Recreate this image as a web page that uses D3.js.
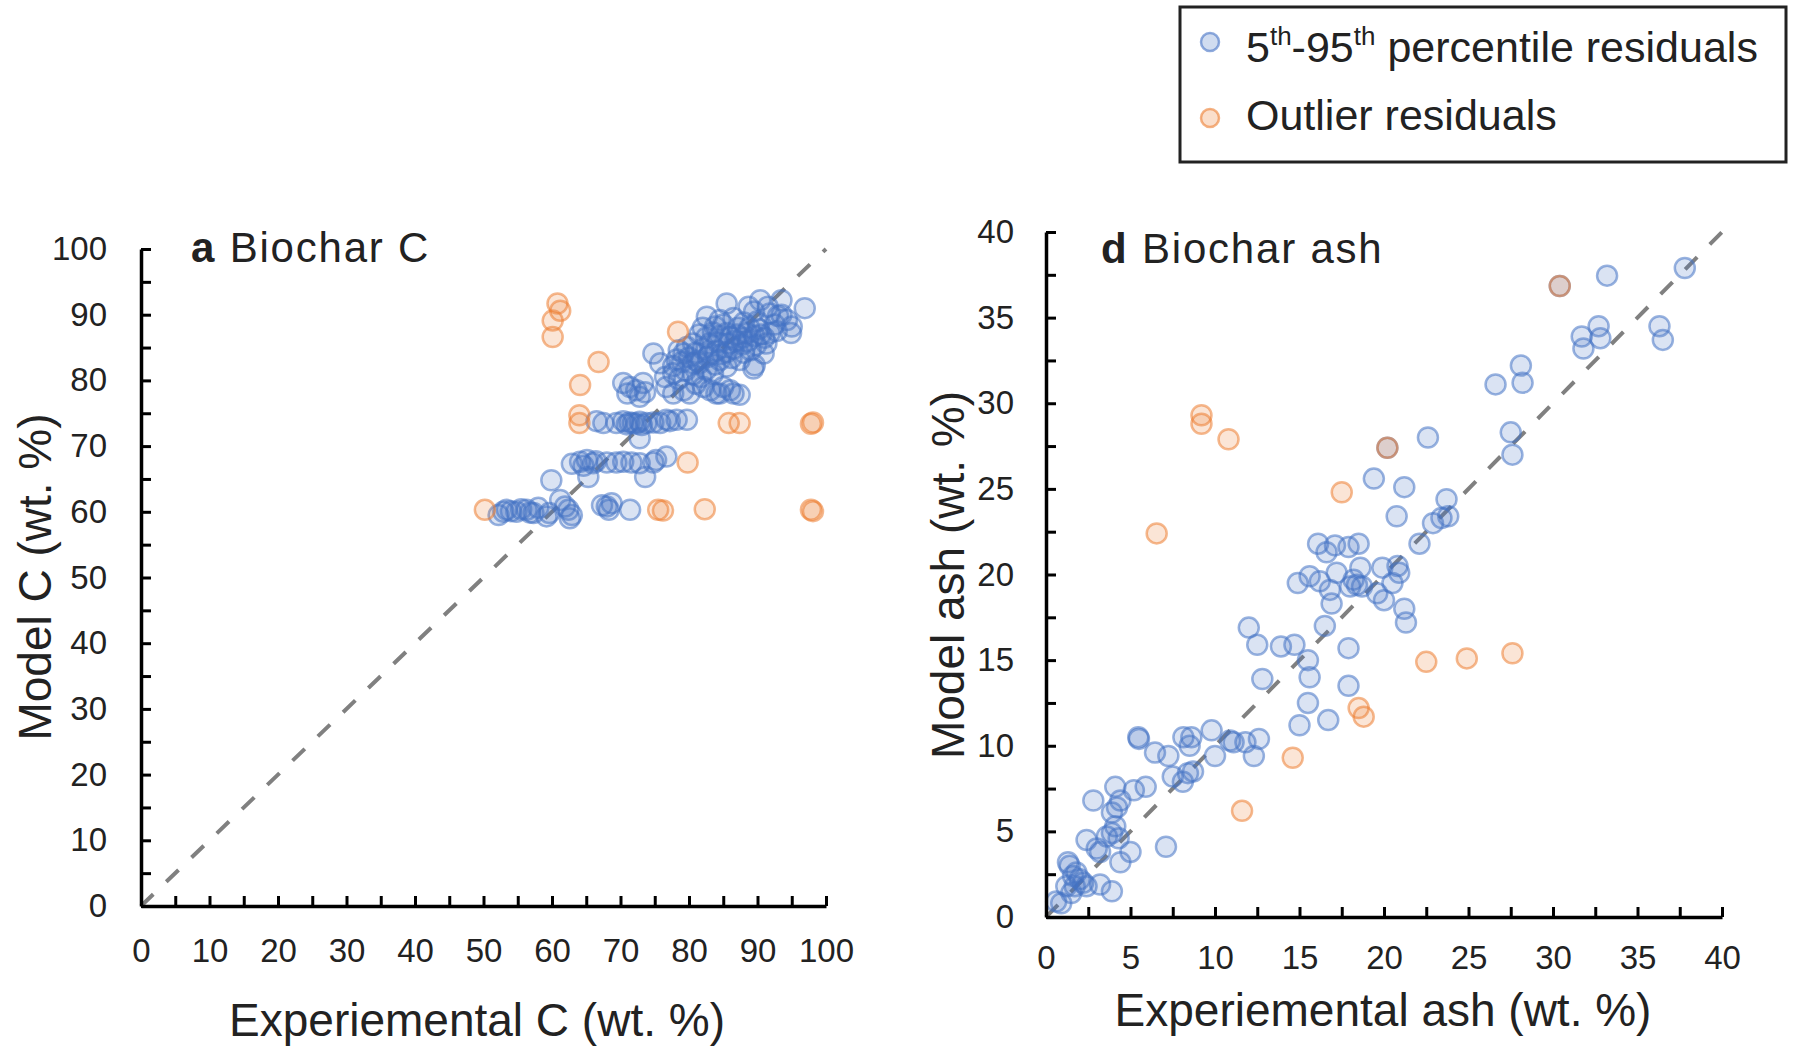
<!DOCTYPE html>
<html lang="en">
<head>
<meta charset="utf-8">
<script src="https://d3js.org/d3.v7.min.js"></script>
<title>Biochar C and ash</title>
<style>
  body { margin: 0; background: #fff; }
  svg text { font-family: "Liberation Sans", Arial, sans-serif; fill: #222; }
</style>
</head>
<body>
<div id="chart"></div>
<script>
// panel a: biochar C (experimental, model)
const cTickLabels = [0, 10, 20, 30, 40, 50, 60, 70, 80, 90, 100];
const cOutlier = [
  [60.8,91.7],[61.2,90.6],[60.1,89.1],[60.1,86.6],[66.8,82.8],[64.1,79.3],[64.0,74.7],[64.0,73.5],
  [50.2,60.3],[75.5,60.3],[76.2,60.2],[78.4,87.4],[85.8,73.5],[87.4,73.5],[97.8,73.4],[98.1,73.6],
  [79.8,67.5],[82.3,60.4],[97.8,60.3],[98.1,60.1]
];
const cInner = [
  [52.2,59.5],[52.9,60.0],[53.4,60.3],[54.0,60.1],[54.8,60.0],[55.5,60.4],[56.3,60.3],[56.8,59.9],
  [57.3,59.8],[58.0,60.6],[59.2,59.3],[59.6,59.8],[61.2,61.8],[61.9,60.8],[62.4,60.3],[62.9,59.5],
  [62.6,59.0],[67.3,61.0],[68.0,60.8],[68.3,60.3],[68.7,61.3],[71.4,60.3],
  [59.9,64.8],[65.3,65.3],[73.6,65.3],
  [62.9,67.3],[64.1,67.6],[64.6,67.0],[65.1,67.9],[66.0,67.4],[66.4,67.7],[68.0,67.5],[69.4,67.5],
  [70.4,67.6],[71.6,67.5],[72.8,67.4],[74.8,67.5],[75.2,67.9],[76.7,68.4],
  [66.5,73.8],[67.5,73.5],[69.4,73.5],[70.4,73.8],[70.9,73.3],[71.3,73.6],[71.8,73.5],[72.3,73.4],
  [72.8,73.7],[73.1,73.2],[73.8,73.5],[74.8,73.6],[75.8,73.5],[77.2,73.8],[79.7,74.0],[72.8,71.2],
  [76.7,74.0],[78.2,74.0],
  [70.4,79.6],[71.4,79.0],[72.3,78.5],[73.3,79.6],[71.0,78.0],[72.8,77.5],[73.6,78.2],
  [76.7,79.0],[77.7,78.0],[79.2,78.5],[80.1,78.0],[82.1,79.0],[83.1,78.5],[84.0,78.0],[84.5,78.0],
  [85.0,79.0],[86.0,78.5],[86.5,78.0],[87.4,77.8],
  [74.8,84.1],[75.8,82.6],[77.7,82.2],[77.7,81.1],[79.2,84.1],[79.7,85.1],[80.6,85.6],[80.6,82.6],
  [80.6,80.9],[81.5,82.6],[82.5,81.6],[84.5,83.1],[85.5,82.1],[87.4,83.1],[89.4,81.8],[89.6,82.3],
  [90.9,84.1],[91.3,85.6],
  [78.5,84.6],[81.0,84.2],[82.0,84.8],[83.0,84.0],[84.0,84.5],[85.5,84.3],[86.5,84.8],[88.0,84.2],
  [89.0,84.6],
  [81.5,87.0],[82.5,86.5],[83.5,87.3],[84.5,86.8],[85.5,87.2],[86.0,86.6],[87.0,87.0],[87.8,86.5],
  [88.5,87.2],[89.5,86.8],[90.5,87.0],[91.0,86.5],
  [85.5,91.7],[90.4,92.2],[93.5,92.2],[96.9,91.0],[82.6,89.7],[84.5,89.2],[88.7,91.2],[91.8,90.2],
  [94.3,89.2],[95.0,88.2],[94.9,87.2],[89.5,90.5],[92.5,88.5],[93.0,89.8],[86.5,89.5],[88.0,88.8],
  [90.0,89.0],[91.5,91.2],
  [79.5,81.5],[81.8,80.5],[83.5,81.0],[78.5,80.2],[81.0,79.5],
  [80.0,83.5],[81.2,83.0],[82.8,83.6],[83.8,82.4],[84.8,84.0],[86.2,83.4],[87.8,85.5],[88.6,86.0],
  [89.8,85.4],[90.2,87.8],[83.0,85.6],[84.2,85.8],[85.8,85.6],[86.8,86.0],[82.0,88.0],[83.8,88.2],
  [85.0,88.5],[87.2,88.0],[88.8,88.0],[91.8,87.2],[92.8,87.5],[79.0,82.8],[78.2,83.2],[76.5,80.5],
  [93.5,90.0]
];

// panel d: biochar ash (experimental, model)
const ashTickLabels = [0, 5, 10, 15, 20, 25, 30, 35, 40];
const ashOutlier = [
  [6.55,22.4],[9.2,29.3],[9.2,28.8],[10.8,27.9],[17.5,24.8],[20.2,27.4],[30.4,36.85],[14.6,9.3],
  [11.6,6.2],[18.5,12.2],[18.8,11.7],[22.5,14.9],[24.9,15.1],[27.6,15.4]
];
const ashInner = [
  [37.8,37.9],[33.2,37.45],[30.4,36.85],[31.7,33.9],[32.7,34.5],[32.8,33.8],[31.8,33.2],[36.3,34.5],
  [36.5,33.7],[28.1,32.2],[28.2,31.2],[26.6,31.1],[27.5,28.3],[27.6,27.0],[22.6,28.0],[20.2,27.4],
  [19.4,25.6],[21.2,25.1],[20.75,23.4],[23.7,24.4],[22.9,23.0],[23.4,23.3],[23.8,23.4],[22.1,21.8],
  [16.1,21.8],[16.6,21.3],[17.1,21.7],[17.9,21.6],[18.5,21.8],[14.9,19.5],[15.6,19.9],[16.2,19.6],
  [17.2,20.1],[16.8,19.1],[16.9,18.3],[18.2,19.7],[18.4,19.4],[18.6,20.4],[18.0,19.3],[18.7,19.3],
  [19.9,20.4],[19.6,18.9],[20.0,18.5],[20.5,19.5],[20.8,20.5],[20.9,20.1],[21.2,18.0],[21.3,17.2],
  [12.0,16.9],[12.5,15.9],[13.9,15.8],[14.7,15.9],[16.5,17.0],[15.5,15.0],[15.6,14.0],[17.9,15.7],
  [12.8,13.9],[17.9,13.5],[15.5,12.5],[15.0,11.2],[16.7,11.5],
  [5.46,10.5],[5.5,10.4],[6.45,9.6],[7.24,9.4],[8.13,10.5],[8.6,10.5],[8.5,10.0],[9.8,10.9],
  [10.0,9.4],[10.9,10.3],[11.1,10.2],[11.8,10.2],[12.6,10.4],[12.3,9.4],[7.5,8.2],[8.1,7.9],
  [8.4,8.4],[8.7,8.5],
  [2.8,6.8],[4.1,7.6],[5.2,7.4],[5.9,7.6],[4.4,6.8],[4.2,6.4],[3.9,6.1],[4.1,5.3],[3.9,4.9],
  [3.6,4.7],[4.3,4.6],[3.2,3.8],[2.4,4.5],[3.0,4.0],[4.4,3.2],[5.0,3.8],[7.1,4.1],[3.2,1.9],
  [3.9,1.5],[1.3,3.2],[1.4,3.0],[1.8,2.6],[1.6,2.4],[2.0,2.2],[1.2,1.8],[1.7,1.8],[2.2,2.0],
  [1.5,1.4],[0.9,0.8],[0.6,0.9],[2.4,1.8]
];

const legendLabels = ["5th-95th percentile residuals", "Outlier residuals"];

const W = 1793, H = 1050;
const BLUE = "68,114,196", ORANGE = "237,125,49";

const svg = d3.select("#chart").append("svg")
  .attr("width", W).attr("height", H);

const panels = [
  { letter: "a", name: "Biochar C", inner: cInner, outlier: cOutlier, labels: cTickLabels, minor: 5,
    xr: [141, 826], yr: [906, 249], titleX: 191, titleY: 262,
    xTitle: "Experiemental C (wt. %)", xTitlePos: [477, 1036],
    yTitle: "Model C (wt. %)", yTitlePos: [51, 577], pad: [33, 34] },
  { letter: "d", name: "Biochar ash", inner: ashInner, outlier: ashOutlier, labels: ashTickLabels, minor: 2.5,
    xr: [1046, 1722], yr: [917, 232], titleX: 1101, titleY: 263,
    xTitle: "Experiemental ash (wt. %)", xTitlePos: [1383, 1026],
    yTitle: "Model ash (wt. %)", yTitlePos: [964, 575], pad: [29, 32] }
];

panels.forEach(p => {
  const max = d3.max(p.labels);
  const x = d3.scaleLinear().domain([0, max]).range(p.xr);
  const y = d3.scaleLinear().domain([0, max]).range(p.yr);
  const ticks = d3.range(0, max + p.minor / 2, p.minor);
  const fmt = d => p.labels.includes(d) ? d : "";
  const g = svg.append("g");

  // 1:1 line
  g.append("line")
    .attr("x1", x(0)).attr("y1", y(0))
    .attr("x2", x(max)).attr("y2", y(max))
    .attr("stroke", "#808080").attr("stroke-width", 4)
    .attr("stroke-dasharray", "17,18");

  const dot = (data, rgb) => g.append("g").selectAll("circle")
    .data(data).enter().append("circle")
    .attr("cx", d => x(d[0])).attr("cy", d => y(d[1]))
    .attr("r", 10)
    .attr("fill", `rgba(${rgb},0.2)`)
    .attr("stroke", `rgba(${rgb},0.55)`)
    .attr("stroke-width", 2.5);
  dot(p.inner, BLUE);
  dot(p.outlier, ORANGE);

  const xAxis = d3.axisBottom(x).tickValues(ticks).tickSizeInner(-10).tickSizeOuter(0)
    .tickPadding(p.pad[0]).tickFormat(fmt);
  const yAxis = d3.axisLeft(y).tickValues(ticks).tickSizeInner(-10).tickSizeOuter(0)
    .tickPadding(p.pad[1]).tickFormat(fmt);

  const gx = g.append("g").attr("transform", "translate(0," + p.yr[0] + ")").call(xAxis);
  const gy = g.append("g").attr("transform", "translate(" + p.xr[0] + ",0)").call(yAxis);
  [gx, gy].forEach(a => {
    a.select(".domain").attr("stroke", "#000").attr("stroke-width", 3.5);
    a.selectAll(".tick line").attr("stroke", "#000").attr("stroke-width", 3);
    a.selectAll(".tick text").attr("font-size", 33).attr("fill", "#222")
      .attr("font-family", "'Liberation Sans', Arial, sans-serif");
  });

  // panel title
  const t = g.append("text").attr("x", p.titleX).attr("y", p.titleY)
    .attr("font-size", 42).attr("letter-spacing", 1.8);
  t.append("tspan").attr("font-weight", "bold").text(p.letter);
  t.append("tspan").text(" " + p.name);

  g.append("text")
    .attr("x", p.xTitlePos[0]).attr("y", p.xTitlePos[1])
    .attr("text-anchor", "middle").attr("font-size", 46)
    .text(p.xTitle);
  g.append("text")
    .attr("transform", `translate(${p.yTitlePos[0]},${p.yTitlePos[1]}) rotate(-90)`)
    .attr("text-anchor", "middle").attr("font-size", 46)
    .text(p.yTitle);
});

// legend
const lg = svg.append("g");
lg.append("rect").attr("x", 1180).attr("y", 7).attr("width", 606).attr("height", 155)
  .attr("fill", "#fff").attr("stroke", "#222").attr("stroke-width", 3);
[BLUE, ORANGE].forEach((rgb, i) => {
  lg.append("circle").attr("cx", 1210).attr("cy", 42 + i * 76).attr("r", 9)
    .attr("fill", `rgba(${rgb},0.25)`).attr("stroke", `rgba(${rgb},0.6)`).attr("stroke-width", 2.5);
});
const l1 = lg.append("text").attr("x", 1246).attr("y", 62).attr("font-size", 43);
l1.append("tspan").text("5");
l1.append("tspan").attr("font-size", 26).attr("dy", -17).text("th");
l1.append("tspan").attr("dy", 17).text("-95");
l1.append("tspan").attr("font-size", 26).attr("dy", -17).text("th");
l1.append("tspan").attr("dy", 17).text(" percentile residuals");
lg.append("text").attr("x", 1246).attr("y", 130).attr("font-size", 43).text(legendLabels[1]);
</script>
</body>
</html>
